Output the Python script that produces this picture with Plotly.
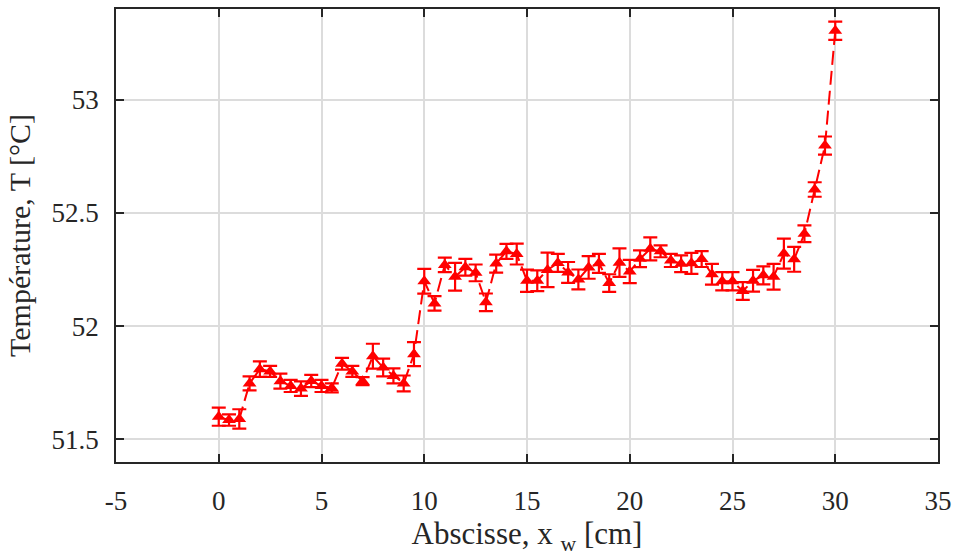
import plotly.graph_objects as go

x_cm = [0, 0.5, 1, 1.5, 2, 2.5, 3, 3.5, 4, 4.5, 5, 5.5, 6, 6.5, 7, 7.5, 8, 8.5, 9, 9.5,
        10, 10.5, 11, 11.5, 12, 12.5, 13, 13.5, 14, 14.5, 15, 15.5, 16, 16.5, 17, 17.5,
        18, 18.5, 19, 19.5, 20, 20.5, 21, 21.5, 22, 22.5, 23, 23.5, 24, 24.5, 25, 25.5,
        26, 26.5, 27, 27.5, 28, 28.5, 29, 29.5, 30]

temp_c = [51.600, 51.585, 51.590, 51.747, 51.810, 51.800, 51.757, 51.736, 51.724, 51.758,
          51.736, 51.727, 51.834, 51.800, 51.757, 51.867, 51.817, 51.780, 51.747, 51.876,
          52.198, 52.100, 52.270, 52.218, 52.260, 52.235, 52.105, 52.276, 52.330, 52.318,
          52.200, 52.200, 52.248, 52.279, 52.237, 52.206, 52.259, 52.277, 52.190, 52.280,
          52.241, 52.297, 52.341, 52.330, 52.290, 52.275, 52.277, 52.296, 52.229, 52.198,
          52.198, 52.155, 52.200, 52.224, 52.218, 52.320, 52.295, 52.408, 52.603, 52.797,
          53.304]

err_c = [0.040, 0.025, 0.043, 0.031, 0.034, 0.024, 0.033, 0.027, 0.032, 0.027,
         0.027, 0.020, 0.026, 0.024, 0.018, 0.055, 0.039, 0.033, 0.035, 0.053,
         0.055, 0.032, 0.032, 0.061, 0.037, 0.037, 0.039, 0.040, 0.033, 0.046,
         0.049, 0.046, 0.076, 0.040, 0.046, 0.044, 0.050, 0.042, 0.039, 0.063,
         0.051, 0.037, 0.051, 0.026, 0.029, 0.037, 0.046, 0.035, 0.046, 0.040,
         0.040, 0.039, 0.048, 0.040, 0.057, 0.066, 0.055, 0.037, 0.032, 0.040,
         0.040]

x_ticks = [-5, 0, 5, 10, 15, 20, 25, 30, 35]
y_ticks = [51.5, 52, 52.5, 53]

red = "#ff0000"
ink = "#262626"
font_family = "Liberation Serif"

fig = go.Figure()
fig.add_trace(go.Scatter(
    x=x_cm, y=temp_c,
    mode="lines+markers",
    line=dict(color=red, width=2, dash="14px,6px"),
    marker=dict(symbol="triangle-up", size=12, color=red),
    error_y=dict(type="data", array=err_c, visible=True, color=red, thickness=2.2, width=7),
    showlegend=False,
    hoverinfo="skip",
))

axis_common = dict(
    showline=True, linecolor=ink, linewidth=1.5, mirror="ticks",
    ticks="inside", ticklen=8, tickwidth=1.5, tickcolor=ink,
    showgrid=True, gridcolor="#dcdcdc", gridwidth=1.5,
    zeroline=False, automargin=False,
    tickfont=dict(family=font_family, size=27, color=ink),
)

fig.update_layout(
    template="none",
    width=955, height=559,
    margin=dict(l=116, r=17, t=9, b=97),
    plot_bgcolor="white", paper_bgcolor="white",
    font=dict(family=font_family, color=ink),
    hovermode=False,
    xaxis=dict(
        range=[-5, 35], tickvals=x_ticks, ticktext=[str(v) for v in x_ticks],
        ticklabelstandoff=14,
        title=dict(text="Abscisse, x <sub>w</sub> [cm]", font=dict(family=font_family, size=31, color=ink), standoff=6),
        **axis_common,
    ),
    yaxis=dict(
        range=[51.4, 53.4], tickvals=y_ticks, ticktext=["51.5", "52", "52.5", "53"],
        ticklabelstandoff=10,
        title=dict(text="Température, T [°C]", font=dict(family=font_family, size=30, color=ink), standoff=12),
        **axis_common,
    ),
)

fig.write_html("out.html", config={"displayModeBar": False},
               post_script="document.body.style.margin='0';")
